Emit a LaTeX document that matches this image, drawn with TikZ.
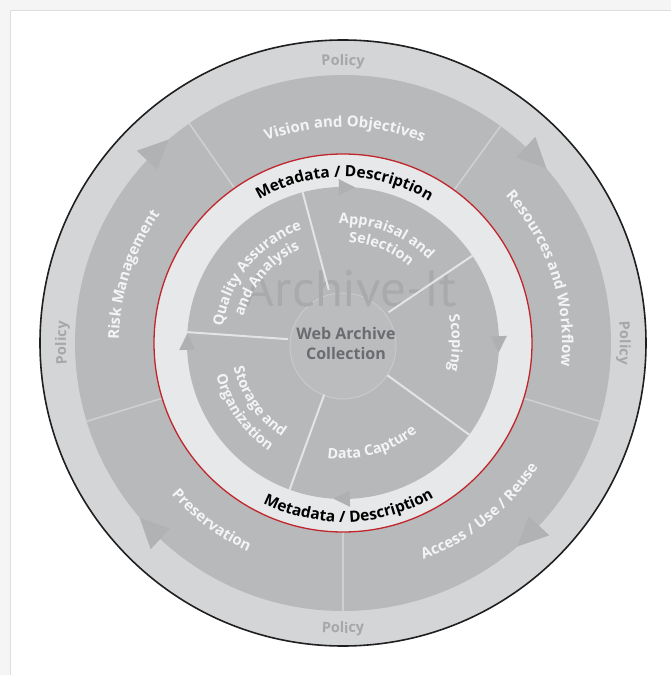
\documentclass[tikz,border=0pt]{standalone}
\usepackage{fontspec}
\setmainfont{Open Sans}
\newfontfamily\wmfont{PT Sans}
\usetikzlibrary{decorations.text}
\definecolor{pagebg}{HTML}{F5F5F5}
\definecolor{panelline}{HTML}{DDDDDD}
\definecolor{policyring}{HTML}{D4D5D7}
\definecolor{midring}{HTML}{B8B9BB}
\definecolor{lightring}{HTML}{E7E8E9}
\definecolor{innerdisc}{HTML}{B7B8BA}
\definecolor{centerfill}{HTML}{BBBCBE}
\definecolor{centerline}{HTML}{C8C9CB}
\definecolor{watermark}{HTML}{A9AAAC}
\definecolor{divinner}{HTML}{E3E4E5}
\definecolor{divouter}{HTML}{CFD0D2}
\definecolor{policytext}{HTML}{A6A7A9}
\definecolor{coretext}{HTML}{6B6C6F}
\definecolor{labeltext}{HTML}{F4F4F4}
\definecolor{redline}{HTML}{C0272D}
\definecolor{outerarrow}{HTML}{B1B2B4}
\definecolor{innerarrow}{HTML}{AFB0B2}
\newcommand{\fOuter}{\bfseries\fontsize{15}{18}\selectfont\color{labeltext}}
\newcommand{\fInner}{\bfseries\fontsize{14.5}{17}\selectfont\color{labeltext}}
\newcommand{\fPolicy}{\bfseries\fontsize{14.5}{17}\selectfont\color{policytext}}
\newcommand{\fMeta}{\bfseries\fontsize{15.5}{18}\selectfont\color{black}}
% clockwise arc text (letter tops outward): radius, centre angle, half span, text
\newcommand{\cwlabel}[4]{%
  \path[decorate,decoration={text along path,text align=center,text={#4}}]
    ({#2+#3}:#1pt) arc[start angle={#2+#3}, end angle={#2-#3}, radius=#1pt];}
% counter-clockwise arc text (letter tops inward)
\newcommand{\ccwlabel}[4]{%
  \path[decorate,decoration={text along path,text align=center,text={#4}}]
    ({#2-#3}:#1pt) arc[start angle={#2-#3}, end angle={#2+#3}, radius=#1pt];}
\tikzset{
  outerdiv/.style={draw=divouter, line width=1.6pt},
  innerdiv/.style={draw=divinner, line width=2pt},
  outerhead/.style={fill=outerarrow},
  innerhead/.style={fill=innerarrow},
}
\begin{document}
\begin{tikzpicture}[x=1pt,y=1pt]
\useasboundingbox (-343,343) rectangle (328,-332);
% page and panel
\fill[pagebg] (-343,343) rectangle (328,-332);
\filldraw[fill=white, draw=panelline, line width=1pt] (-332,332) rectangle (340,-345);
% policy ring
\filldraw[fill=policyring, draw=black!88, line width=1.6pt] (0,0) circle[radius=303pt];
% middle ring
\fill[midring] (0,0) circle[radius=268pt];
% outer arrowheads (clockwise)
\foreach \a in {134,44,-46,-136}{
  \fill[outerhead] ({\a-3.4}:268pt) -- ({\a+3}:282pt) -- ({\a+3}:254pt) -- cycle;
}
% outer dividers
\foreach \a in {125,54,-17,-90,-163}{
  \draw[outerdiv] (\a:189pt) -- (\a:268pt);
}
% light ring with red edge
\fill[lightring] (0,0) circle[radius=189pt];
\draw[redline, line width=1.3pt] (0,0) circle[radius=189pt];
% inner disc
\fill[innerdisc] (0,0) circle[radius=156pt];
% inner arrowheads (clockwise)
\foreach \a in {89,0,-90,180}{
  \fill[innerhead] ({\a-3.5}:156pt) -- ({\a+2.5}:164pt) -- ({\a+2.5}:148pt) -- cycle;
}
% centre circle
\filldraw[fill=centerfill, draw=centerline, line width=1pt] (0,-3) circle[radius=53pt];
% watermark
\node[text=watermark, font=\wmfont\fontsize{51}{55}\selectfont, inner sep=0pt] (wm) at (8,54) {Archive-It};
% inner dividers
\foreach \a in {105,34,-36,-110,176}{
  \draw[innerdiv] (\a:55pt) -- (\a:156pt);
}
% centre label
\node[text=coretext, font=\bfseries\fontsize{16}{20}\selectfont, align=center, inner sep=0pt] (core) at (3,0) {Web Archive\\Collection};
% policy labels
\cwlabel{278}{90}{40}{|\fPolicy|Policy}
\ccwlabel{290}{-90}{40}{|\fPolicy|Policy}
\cwlabel{277}{180}{40}{|\fPolicy|Policy}
\cwlabel{277}{0}{40}{|\fPolicy|Policy}
% outer ring labels
\cwlabel{216}{89.5}{60}{|\fOuter|Vision and Objectives}
\cwlabel{219}{18}{60}{|\fOuter|Resources and Workflow}
\ccwlabel{231}{-51}{60}{|\fOuter|Access / Use / Reuse}
\ccwlabel{229}{-126.5}{60}{|\fOuter|Preservation}
\cwlabel{224}{162}{60}{|\fOuter|Risk Management}
% metadata labels
\cwlabel{166}{89.5}{70}{|\fMeta|Metadata / Description}
\ccwlabel{179}{-88}{70}{|\fMeta|Metadata / Description}
% inner labels
\cwlabel{119}{68}{70}{|\fInner|Appraisal and}
\cwlabel{101}{68}{70}{|\fInner|Selection}
\cwlabel{109}{0}{60}{|\fInner|Scoping}
\ccwlabel{116}{-74}{60}{|\fInner|Data Capture}
\ccwlabel{112}{-145}{60}{|\fInner|Storage and}
\ccwlabel{131}{-145}{60}{|\fInner|Organization}
\cwlabel{121}{141}{60}{|\fInner|Quality Assurance}
\cwlabel{103}{140}{60}{|\fInner|and Analysis}
\end{tikzpicture}
\end{document}
